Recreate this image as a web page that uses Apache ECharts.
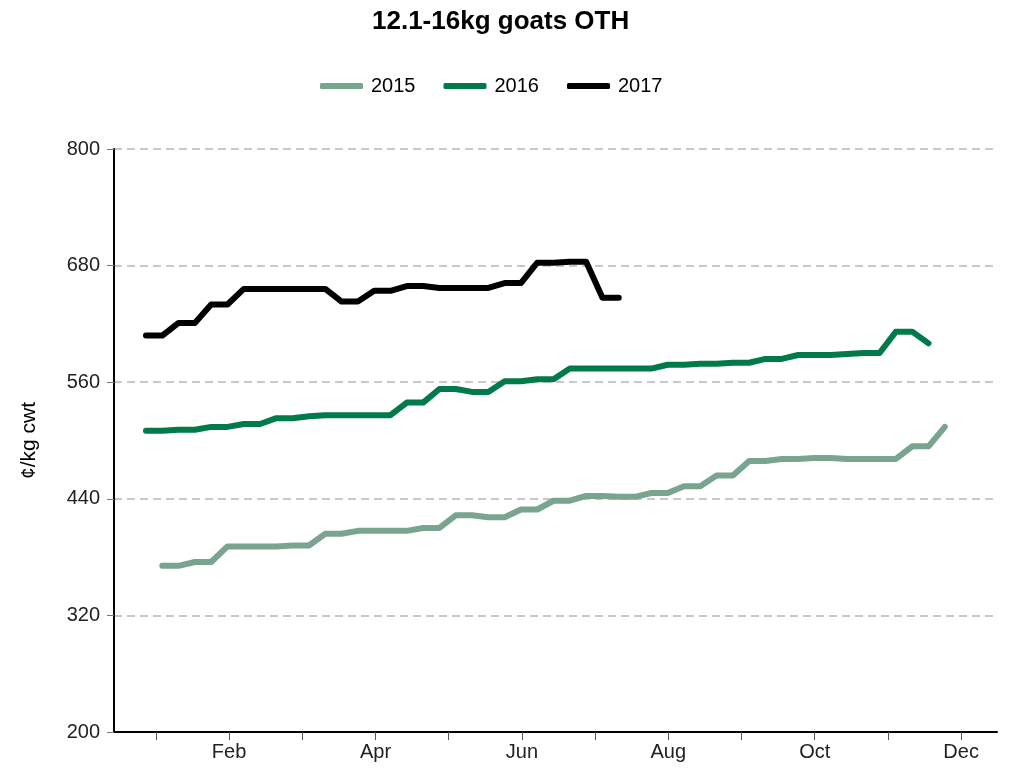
<!DOCTYPE html>
<html>
<head>
<meta charset="utf-8">
<script src="https://cdn.jsdelivr.net/npm/echarts@6/dist/echarts.min.js"></script>
<style>
html,body{margin:0;padding:0;background:#fff;}
#chart{width:1009px;height:770px;}
</style>
</head>
<body>
<div id="chart"></div>
<script>
// Weekly prices (¢/kg cwt); x = week index (0 = first week of the year)
const seriesNames = ['2015', '2016', '2017'];
const weeks2015 = [1,2,3,4,5,6,7,8,9,10,11,12,13,14,15,16,17,18,19,20,21,22,23,24,25,26,27,28,29,30,31,32,33,34,35,36,37,38,39,40,41,42,43,44,45,46,47,48,49];
const values2015 = [371,371,375,375,391,391,391,391,392,392,404,404,407,407,407,407,410,410,423,423,421,421,429,429,438,438,443,443,442,442,446,446,453,453,464,464,479,479,481,481,482,482,481,481,481,481,494,494,514];
const weeks2016 = [0,1,2,3,4,5,6,7,8,9,10,11,12,13,14,15,16,17,18,19,20,21,22,23,24,25,26,27,28,29,30,31,32,33,34,35,36,37,38,39,40,41,42,43,44,45,46,47,48];
const values2016 = [510,510,511,511,514,514,517,517,523,523,525,526,526,526,526,526,539,539,553,553,550,550,561,561,563,563,574,574,574,574,574,574,578,578,579,579,580,580,584,584,588,588,588,589,590,590,612,612,600];
const weeks2017 = [0,1,2,3,4,5,6,7,8,9,10,11,12,13,14,15,16,17,18,19,20,21,22,23,24,25,26,27,28,29];
const values2017 = [608,608,621,621,640,640,656,656,656,656,656,656,643,643,654,654,659,659,657,657,657,657,662,662,683,683,684,684,647,647];
const monthNames = ['Jan','Feb','Mar','Apr','May','Jun','Jul','Aug','Sep','Oct','Nov','Dec'];
const monthTickWeeks = [0.61,5.10,9.59,14.08,18.57,23.06,27.55,32.04,36.53,41.02,45.51,50.0];
const labelledMonths = ['Feb','Apr','Jun','Aug','Oct','Dec'];

const colors = ['#78A490', '#007A4B', '#000000'];
const pair = (xs, ys) => xs.map((x, i) => [x, ys[i]]);
const labelWeeks = monthTickWeeks.filter((w, i) => labelledMonths.includes(monthNames[i]));

const chart = echarts.init(document.getElementById('chart'));
const font = 'Liberation Sans, Arial, sans-serif';
chart.setOption({
  animation: false,
  backgroundColor: '#fff',
  title: {
    text: '12.1-16kg goats OTH',
    left: 367, top: 4,
    textStyle: { fontFamily: font, fontSize: 26, fontWeight: 'bold', color: '#000' }
  },
  legend: {
    top: 71, left: 315,
    itemWidth: 43, itemHeight: 6, itemGap: 28,
    icon: 'roundRect',
    textStyle: { fontFamily: font, fontSize: 20, color: '#000', padding: [0, 0, 0, 3] },
    data: seriesNames.map((n, i) => ({ name: n, itemStyle: { color: colors[i] } }))
  },
  grid: { left: 114, right: 12, top: 149, bottom: 38, containLabel: false },
  xAxis: {
    type: 'value',
    min: -1.96, max: 52.2,
    axisLine: { show: true, onZero: false, lineStyle: { color: '#000', width: 2 } },
    axisTick: { show: true, customValues: monthTickWeeks, length: 8, lineStyle: { color: '#555', width: 1 } },
    axisLabel: {
      show: true, customValues: labelWeeks, margin: 10,
      fontFamily: font, fontSize: 20, color: '#222',
      formatter: v => {
        let best = 0, d = 1e9;
        monthTickWeeks.forEach((w, i) => { if (Math.abs(w - v) < d) { d = Math.abs(w - v); best = i; } });
        return monthNames[best];
      }
    },
    splitLine: { show: false }
  },
  yAxis: {
    type: 'value', min: 200, max: 800, interval: 120,
    name: '¢/kg cwt', nameLocation: 'middle', nameGap: 74, nameRotate: 90,
    nameTextStyle: { fontFamily: font, fontSize: 21, color: '#000' },
    axisLine: { show: true, onZero: false, lineStyle: { color: '#000', width: 2 } },
    axisTick: { show: true, length: 7, lineStyle: { color: '#777', width: 1 } },
    axisLabel: { fontFamily: font, fontSize: 20, color: '#222', margin: 14 },
    splitLine: { show: true, lineStyle: { color: '#c8c8c8', width: 2, type: [8, 5] } }
  },
  series: [
    { name: '2015', type: 'line', data: pair(weeks2015, values2015) },
    { name: '2016', type: 'line', data: pair(weeks2016, values2016) },
    { name: '2017', type: 'line', data: pair(weeks2017, values2017) }
  ].map((s, i) => Object.assign(s, {
    symbol: 'none', showSymbol: false, smooth: false,
    color: colors[i],
    lineStyle: { width: 6, color: colors[i], cap: 'round', join: 'round' }
  }))
});
</script>
</body>
</html>
